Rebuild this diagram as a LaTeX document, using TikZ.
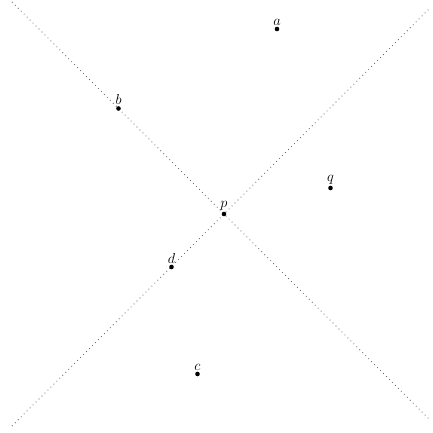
\documentclass[tikz,border=0pt]{standalone}
\begin{document}
\begin{tikzpicture}[x=1pt,y=-1pt,
  pt/.style={circle,fill=black,inner sep=0pt,minimum size=4.6pt,
    label={[inner sep=1.2pt,font=\fontsize{15}{17}\selectfont]above:#1}},
  guide/.style={black!60,line width=0.8pt,dash pattern=on 0.8pt off 3.4pt}]
\useasboundingbox (0,0) rectangle (432,433);
\coordinate (l1s) at (12,2);
\coordinate (l1e) at (430,420);
\coordinate (l2s) at (12,426);
\coordinate (l2e) at (430,8);
\draw[guide] (l1s) -- (l1e);
\draw[guide] (l2s) -- (l2e);
\node[pt=$a$] (a) at (277,29) {};
\node[pt=$b$] (b) at (118.5,108.5) {};
\node[pt=$q$] (q) at (330.5,188) {};
\node[pt=$p$] (p) at (224,214) {};
\node[pt=$d$] (d) at (171.5,267) {};
\node[pt=$c$] (c) at (197.5,374) {};
\end{tikzpicture}
\end{document}
